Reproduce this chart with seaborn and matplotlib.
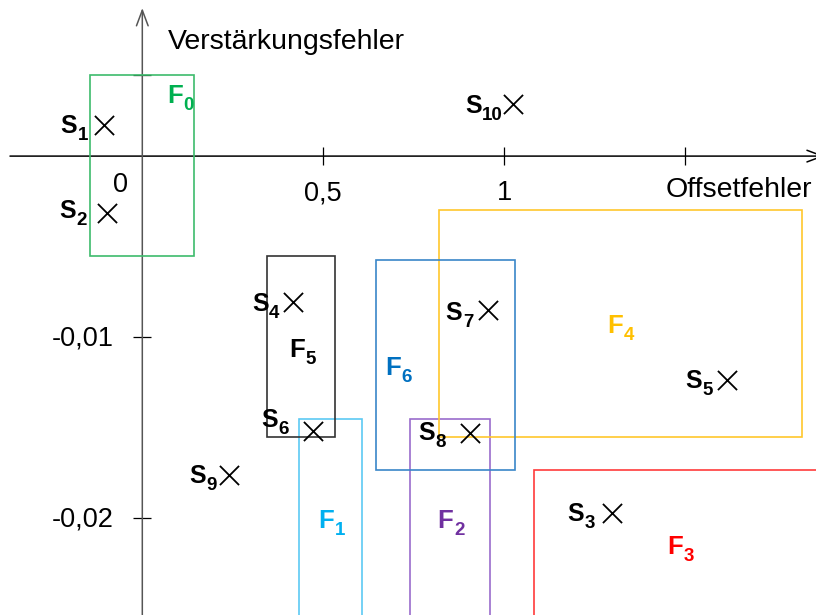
import numpy as np
import pandas as pd
import matplotlib
matplotlib.use("Agg")
import matplotlib.pyplot as plt
from matplotlib.patches import Rectangle
import seaborn as sns

# ---------------- data ----------------
point_names = ["1", "2", "3", "4", "5", "6", "7", "8", "9", "10"]
point_offset = [-0.105, -0.0967, 1.298, 0.4155, 1.616, 0.4707, 0.956, 0.905, 0.2387, 1.025]
point_gain = [0.00172, -0.00316, -0.01971, -0.00804, -0.01236, -0.01517, -0.00849, -0.01527, -0.0176, 0.00288]

fault_names = ["0", "1", "2", "3", "4", "5", "6"]
fault_off_min = [-0.1436, 0.432, 0.740, 1.083, 0.8188, 0.3453, 0.6464]
fault_off_max = [0.1436, 0.6077, 0.9605, 2.0, 1.8215, 0.5331, 1.030]
fault_gain_max = [0.00449, -0.01451, -0.01451, -0.01732, -0.002975, -0.0055, -0.00572]
fault_gain_min = [-0.00551, -0.03, -0.03, -0.03, -0.01549, -0.01549, -0.01732]

x_ticks = [0.5, 1.0, 1.5]
x_tick_labels = ["0,5", "1", ""]
y_ticks = [0.00449, -0.01, -0.02]
y_tick_labels = ["", "-0,01", "-0,02"]

# ---------------- layout / style ----------------
box_colors = ["#3dbb6c", "#5ccaf3", "#9a6ccc", "#ff3b3b", "#ffc72c", "#333333", "#3a86c8"]
text_colors = ["#00b050", "#00b0f0", "#7030a0", "#ff0000", "#ffc000", "#000000", "#0070c0"]
# F label anchor (left, baseline) in data units
fault_label_pos = [(0.068, 0.00293), (0.486, -0.02052), (0.816, -0.02052), (1.451, -0.02196),
                   (1.285, -0.00976), (0.406, -0.01108), (0.671, -0.01208)]
# S label offsets (right edge, baseline) relative to marker, in pixels
point_label_off = [(-16, -8), (-20, -5), (-17, -8), (-13, -9), (-14, -8), (-24, 4),
                   (-15, -10), (-24, -7), (-12, -8), (-10, -9)]

sns.set_style("white")
plt.rcParams["font.family"] = ["Liberation Sans", "DejaVu Sans"]
plt.rcParams["text.color"] = "black"

fig = plt.figure(figsize=(8.16, 6.15), dpi=100)
ax = fig.add_axes([0, 0, 1, 1])
ax.set_xlim(-0.3931, 1.861)
ax.set_ylim(-0.025326, 0.008615)

for sp in ["top", "right"]:
    ax.spines[sp].set_visible(False)
ax.spines["left"].set_position(("data", 0))
ax.spines["bottom"].set_position(("data", 0))
ax.spines["left"].set_visible(False)
ax.spines["bottom"].set_visible(False)

# axis lines with open arrowheads
ax.annotate("", xy=(1.885, 0), xytext=(-0.3655, 0),
            arrowprops=dict(arrowstyle="->,head_length=0.8,head_width=0.3", lw=1.1,
                            color="black", mutation_scale=14, shrinkA=0, shrinkB=0),
            annotation_clip=False, zorder=1)
ax.annotate("", xy=(0, 0.00817), xytext=(0, -0.026),
            arrowprops=dict(arrowstyle="->,head_length=0.8,head_width=0.3", lw=1.1,
                            color="#555555", mutation_scale=14, shrinkA=0, shrinkB=0),
            annotation_clip=False, zorder=1)

ax.set_xticks(x_ticks)
ax.set_xticklabels([])
ax.set_yticks(y_ticks)
ax.set_yticklabels([])
ax.tick_params(axis="both", direction="inout", length=13, width=0.9, color="black",
               bottom=True, left=True)

# tick labels
tick_fs = 19.5
for xv, lab in zip(x_ticks, x_tick_labels):
    if lab:
        ax.text(xv, -0.00243, lab, ha="center", va="baseline", fontsize=tick_fs)
for yv, lab in zip(y_ticks, y_tick_labels):
    if lab:
        ax.annotate(lab, xy=(0, yv), xytext=(-29, -8), textcoords="offset pixels",
                    ha="right", va="baseline", fontsize=tick_fs)
ax.text(-0.0597, -0.00198, "0", ha="center", va="baseline", fontsize=tick_fs)
ax.text(0.0708, 0.00590, "Verstärkungsfehler", ha="left", va="baseline", fontsize=20.5)
ax.annotate("Offsetfehler", xy=(1.861, -0.00226), xytext=(-4, 0), textcoords="offset pixels",
            ha="right", va="baseline", fontsize=20.5)


def sub_label(main_txt, sub, color, main_fs, sub_fs):
    t_sub = ax.annotate(sub, xy=(1, 0), xycoords=main_txt, xytext=(0.5, -2),
                        textcoords="offset pixels", ha="left", va="baseline",
                        fontsize=sub_fs, fontweight="bold", color=color,
                        zorder=main_txt.get_zorder())
    return t_sub


# fault regions
for i, name in enumerate(fault_names):
    x0, x1 = fault_off_min[i], fault_off_max[i]
    y0, y1 = fault_gain_min[i], fault_gain_max[i]
    ax.add_patch(Rectangle((x0, y0), x1 - x0, y1 - y0, fill=False,
                           edgecolor=box_colors[i], lw=1.2, zorder=2))
    lx, ly = fault_label_pos[i]
    t = ax.text(lx, ly, "F", color=text_colors[i], fontsize=18.5, fontweight="bold",
                ha="left", va="baseline", zorder=4)
    sub_label(t, name, text_colors[i], 18.5, 13.5)

# points
df = pd.DataFrame({"name": point_names, "offset": point_offset, "gain": point_gain})
sns.scatterplot(data=df, x="offset", y="gain", marker="x", s=190, color="black",
                linewidth=1.3, ax=ax, legend=False, zorder=5)
ax.set_xlabel("")
ax.set_ylabel("")

digit_w = 10.5  # px per subscript digit
for i, row in df.iterrows():
    dx, dy = point_label_off[i]
    wsub = digit_w * len(row["name"]) + 0.5
    t = ax.annotate("S", xy=(row["offset"], row["gain"]),
                    xytext=(dx - wsub, dy), textcoords="offset pixels", ha="right",
                    va="baseline", fontsize=18, fontweight="bold", zorder=5)
    sub_label(t, row["name"], "black", 18, 13.5)

fig.savefig("out.png", dpi=100)
